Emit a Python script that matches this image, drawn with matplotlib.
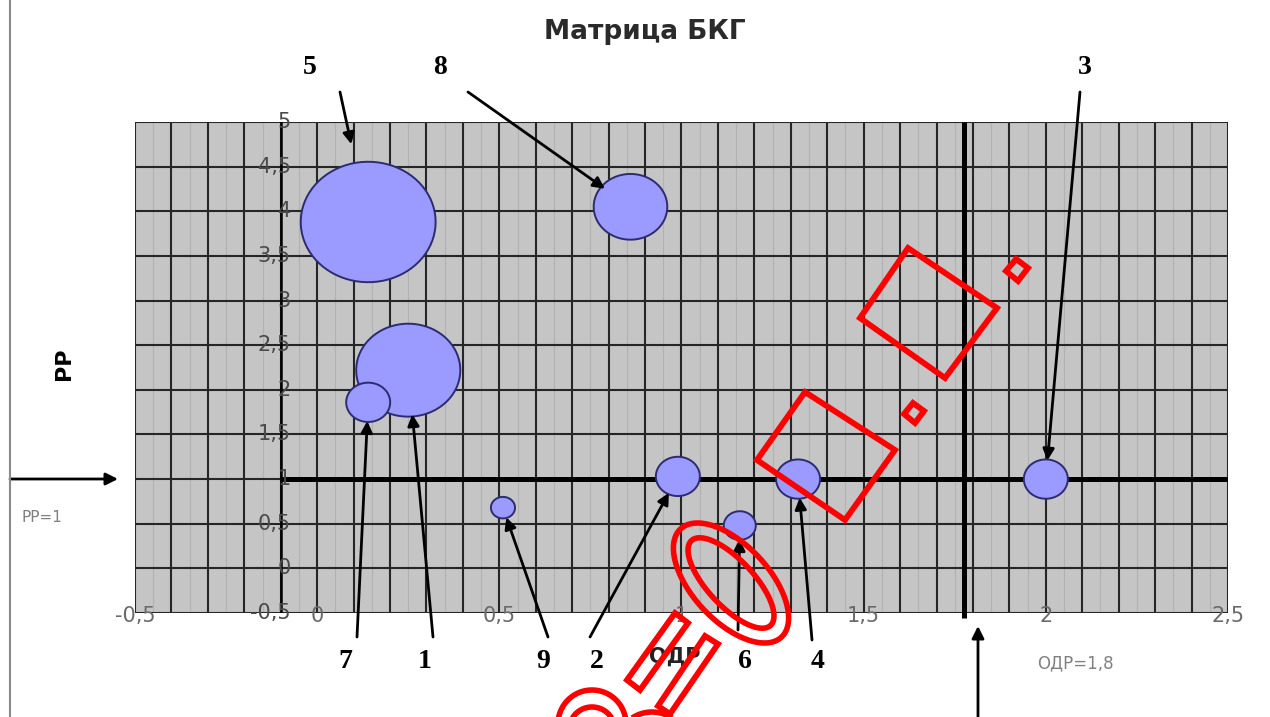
import numpy as np
import matplotlib
matplotlib.use('Agg')
import matplotlib.pyplot as plt
from matplotlib.path import Path
from matplotlib.patches import Polygon

W, H = 1270, 717

# BCG matrix data: product number, relative market share (ОДР), market growth (РР)
products = ['1', '2', '3', '4', '5', '6', '7', '8', '9']
odr = [0.25, 0.99, 2.0, 1.32, 0.14, 1.16, 0.14, 0.86, 0.51]
rr = [2.22, 1.03, 1.0, 1.0, 3.88, 0.48, 1.86, 4.05, 0.68]
volume = [5.6, 1.0, 1.0, 1.0, 9.4, 0.53, 1.0, 2.8, 0.3]

odr_limit = 1.775   # drawn slightly left of 1,8 in the original
rr_limit = 1.0

x_ticks = [-0.5, 0, 0.5, 1, 1.5, 2, 2.5]
y_ticks = [-0.5, 0, 0.5, 1, 1.5, 2, 2.5, 3, 3.5, 4, 4.5, 5]

# axes area in pixels of the original picture
L, R, T, B = 135, 1228, 122, 613


def px(x, y):
    # picture pixel -> data coordinates
    return (-0.5 + (x - L) / (R - L) * 3.0, 5.0 - (y - T) / (B - T) * 5.5)


def fpx(pts):
    return [(x / W, 1 - y / H) for x, y in pts]


fig = plt.figure(figsize=(W / 100, H / 100), dpi=100)
ax = fig.add_axes([L / W, 1 - B / H, (R - L) / W, (B - T) / H])
ax.set_facecolor('#c5c5c5')
ax.set_xlim(-0.5, 2.5)
ax.set_ylim(-0.5, 5)
for s in ax.spines.values():
    s.set_visible(False)
ax.set_xticks([])
ax.set_yticks([])

# grid
for v in np.arange(-0.45, 2.5, 0.1):
    ax.axvline(v, color='#b2b2b2', lw=0.8, zorder=1)
for v in np.arange(-0.5, 2.51, 0.1):
    ax.axvline(v, color='#262626', lw=1.5, zorder=1)
for v in np.arange(-0.5, 5.01, 0.5):
    ax.axhline(v, color='#262626', lw=1.5, zorder=1)
ax.axvline(-0.1, color='black', lw=1.8, zorder=2)

# separating lines
ax.plot([-0.1, 2.5], [rr_limit, rr_limit], color='black', lw=3.6, zorder=2,
        solid_capstyle='butt')
ax.plot([odr_limit, odr_limit], [-0.56, 5], color='black', lw=3.6, zorder=2,
        solid_capstyle='butt', clip_on=False)

# elliptic bubble marker (picture is stretched horizontally)
t = np.linspace(0, 2 * np.pi, 80)
ell = Path(np.column_stack([np.cos(t), np.sin(t) / 1.12]), closed=True)
sizes = [v * (44 * 0.72) ** 2 for v in volume]
ax.scatter(odr, rr, s=sizes, marker=ell, facecolor='#9a9aff',
           edgecolor='#2c2c70', linewidths=1.4, zorder=4)

# tick labels
for v in x_ticks:
    ax.text(v, px(0, 616)[1], ('%g' % v).replace('.', ','), ha='center', va='center',
            fontsize=15, color='#6a6a6a', clip_on=False, zorder=5)
for v in y_ticks:
    ax.text(px(291, 0)[0], v, ('%g' % v).replace('.', ','), ha='right', va='center',
            fontsize=15, color='#4a4a4a', zorder=5)

# product labels with arrows: label pos, arrow tail (pixels)
label_pos = {'5': (310, 68), '8': (440, 68), '3': (1085, 68),
             '7': (345, 662), '1': (425, 662), '9': (543, 662),
             '2': (597, 662), '6': (745, 662), '4': (818, 662)}
tail_pos = {'5': (340, 92), '8': (468, 92), '3': (1080, 92),
            '7': (357, 637), '1': (433, 637), '9': (548, 637),
            '2': (590, 637), '6': (738, 630), '4': (812, 640)}
for i, p in enumerate(products):
    lx, ly = px(*label_pos[p])
    ax.text(lx, ly, p, ha='center', va='center', fontsize=20, fontweight='bold',
            family='Liberation Serif', clip_on=False, zorder=6)
    rad = np.sqrt(sizes[i]) / 2 * 0.85
    if p == '5':
        rad += 16
    ax.annotate('', xy=(odr[i], rr[i]), xytext=px(*tail_pos[p]),
                arrowprops=dict(arrowstyle='-|>', color='black', lw=2.0,
                                mutation_scale=17, shrinkA=0, shrinkB=rad),
                annotation_clip=False, zorder=6)

# axis titles and boundary notes
ax.text(*px(675, 657), 'ОДР', ha='center', va='center', fontsize=15,
        fontweight='bold', color='#222222', clip_on=False)
ax.text(*px(1075, 663), 'ОДР=1,8', ha='center', va='center', fontsize=12,
        color='#808080', clip_on=False)
ax.text(*px(42, 517), 'РР=1', ha='center', va='center', fontsize=11,
        color='#808080', clip_on=False)
ax.text(*px(64, 364), 'РР', ha='center', va='center', fontsize=16,
        fontweight='bold', rotation=90, clip_on=False)
ax.annotate('', xy=px(978, 626), xytext=px(978, 717),
            arrowprops=dict(arrowstyle='-|>', color='black', lw=2,
                            mutation_scale=18, shrinkA=0, shrinkB=0),
            annotation_clip=False)
ax.annotate('', xy=px(118, 479), xytext=px(10, 479),
            arrowprops=dict(arrowstyle='-|>', color='black', lw=2,
                            mutation_scale=18, shrinkA=0, shrinkB=0),
            annotation_clip=False)

fig.text(645 / W, 1 - 32 / H, 'Матрица БКГ', ha='center', va='center',
         fontsize=19, fontweight='bold', color='#2a2a2a')
fig.add_artist(plt.Line2D([10 / W, 10 / W], [0, 1], color='#8a8a8a', lw=1.5))

# red watermark shapes over the picture
red = '#ff0000'
shapes = [
    [(908, 248), (997, 308), (945, 378), (860, 318)],
    [(805, 392), (895, 450), (845, 520), (757, 460)],
    [(1016, 259), (1028, 268), (1018, 281), (1006, 271)],
    [(913, 403), (924, 411), (915, 423), (904, 414)],
    [(627, 680), (675, 613), (688, 623), (640, 690)],
    [(658, 706), (705, 636), (718, 644), (670, 714)],
]
for pts in shapes:
    fig.add_artist(Polygon(fpx(pts), closed=True, fill=False, ec=red, lw=4.2))


def ellipse_pts(cx, cy, a, b, ang):
    u = np.linspace(0, 2 * np.pi, 100)
    c, s = np.cos(np.radians(ang)), np.sin(np.radians(ang))
    ex, ey = a * np.cos(u), b * np.sin(u)
    return list(zip(cx + ex * c - ey * s, cy + ex * s + ey * c))


for a, b in [(74, 38), (58, 23)]:
    fig.add_artist(Polygon(fpx(ellipse_pts(731, 583, a, b, 47)), closed=True,
                           fill=False, ec=red, lw=4.0))
for cx, cy, r in [(592, 724, 34), (592, 730, 23), (652, 748, 36)]:
    fig.add_artist(Polygon(fpx(ellipse_pts(cx, cy, r, r, 0)), closed=True,
                           fill=False, ec=red, lw=4.0))

fig.savefig('out.png', dpi=100, facecolor='white')
